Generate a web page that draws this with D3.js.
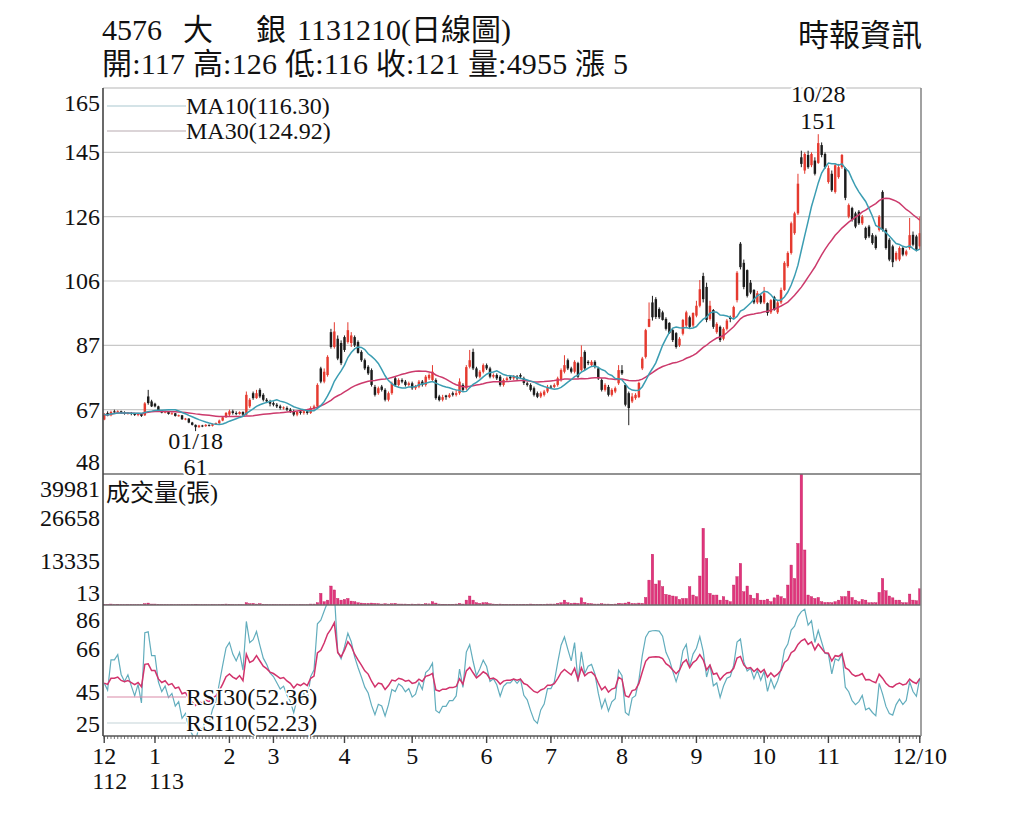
<!DOCTYPE html>
<html>
<head>
<meta charset="utf-8">
<script src="https://cdn.jsdelivr.net/npm/d3@7"></script>
<style>
  body { margin: 0; background: #fff; }
  svg { display: block; }
  text { font-family: "Liberation Serif", "Noto Sans CJK TC", serif; fill: #111; }
</style>
</head>
<body>
<script>
// ---- Data ----

// x axis: one entry per month shown, with its number of trading days
const monthLabels = ["12", "1", "2", "3", "4", "5", "6", "7", "8", "9", "10", "11", "12/10"];
const yearLabels = ["112", "113"]; // printed under the first two months
const monthDays = [15, 22, 13, 21, 20, 22, 19, 21, 22, 20, 19, 21, 7];

// daily candles, 2023/12/11 .. 2024/12/10 (one row per month)
const opens = [
  64.5,66.5,65.8,67,66.8,67,66.7,66.3,66.5,66.2,65.9,66.2,65.8,71.5,70,
  69.3,68.5,67.2,66.6,66.9,66.2,66.4,65.6,65.8,64.6,64.8,63.6,62.9,62.2,62.7,62.5,62.9,62.6,63.1,63.4,64.2,65.2,
  66,67,66.5,66.2,66.8,66,68.5,72.5,71,73.5,72,70.5,70,
  69.5,69,68.5,68,68,67.5,67,66,67,66.5,67,66.5,68,68.5,80,76,78,91,86.5,89,87.7,
  89.5,88,87.7,89.5,88,85,82.5,80.5,79.5,74.4,72.5,74.5,73.5,70.5,72.5,77,75,76.5,76,75,
  75.5,74,74.5,76,75,77,76.5,76.5,71.5,70.5,71.8,71.3,72.5,72,72.5,75,74,80.5,85,80,77.5,79,
  81,80,77.5,78,77.5,75,76.5,77.5,77,77.5,78,77,75.5,75,74,72.5,71.5,72,73,
  74.5,74.4,75,76.5,79,82.5,80,79,81.6,79.5,85,82,81,82,80,76.5,73.5,74.4,72,73,75.5,
  79.5,75,72.5,70,71,71.3,80,83.5,92.6,100,101,98,97,95,93.8,91.6,90.7,87,90.5,93,95.5,93,
  96,99,108,104.7,95,97.7,91,92.6,89,92,95.5,95.5,100.7,117.8,112,109.8,106,103.8,100,102,
  100,99.8,97,101.6,97,100,103.8,111,115,121,127,144,140,144.7,141.6,143,142.3,147.7,145,
  136.5,139,133.5,138,141,140.7,126,128.6,127,127.5,124,122.6,123,120.4,120,122,133.5,122,119,117,113,
  113,116.5,114.5,116.5,120.5,120,117
];
const highs = [
  66.5,67,67.2,67.5,67.3,67.2,67,66.8,66.8,66.5,66.5,66.4,69.8,73.5,70.5,
  69.6,68.7,67.4,67.2,67,66.7,66.5,66,65.9,65,64.9,63.8,63,62.9,62.9,63.1,63,63.3,63.6,64.5,65.5,66.8,
  67.5,67.5,67,67,67,73,71,73,73.5,74,72.5,71,70.5,
  70,69.5,69,68.5,68.5,68,67.5,67,67.5,67.5,67.5,68.5,69,75.5,80.5,80,84,92,94,90,88.5,
  90,94,91,90,88.5,85.5,83,81,80,75,74.5,75,74,73,76,77.5,77,77,76.5,76,
  76,75,76.5,76.5,78,78.5,81,77,72,72,72,72.5,73,73.5,77,75.5,81,85.6,86,80.5,79.5,81.5,
  81.5,80.5,78.5,78.5,78,77,77.5,78,78,78,78.5,77.5,76,75.5,74.5,73,73,73.5,75,
  75,75.5,77.5,80,84,83,80.5,82.5,82,87,85.5,82.5,82.5,82.5,80.5,77,75.5,75,74,74.5,81,
  81,75.5,73,72.5,72.5,76,83.5,92,100,102,101.6,98.5,97.5,95.5,94,92,91,89.5,95,97.5,96,97,
  100.5,106.8,109,106,100.5,98,94,93,92.5,95,96,99,109.5,118.3,113,110,106.8,104,103.5,102.5,
  104.7,100,101,102,100.5,104.5,112.5,115.5,124.5,127.5,139,146,145.5,146,145.5,144,151,148.5,145.5,
  141.5,140,142,142,145,141,130,129,127.5,128,126.5,123,123.5,121,120.5,126.5,134,122.5,119.5,117.5,115.5,
  117,117,116,125.6,121.5,120.5,126
];
const lows = [
  64.3,65.5,65.5,66.3,66.5,66.2,66,66,65.8,65.6,65.5,65.3,65.6,69,68.3,
  68.2,67,66.4,66.4,66,66,65.4,65.4,64.4,64.3,63.4,62.7,61,62,62.2,62.3,62.4,62.4,62.9,63.2,64,65,
  65.5,66,65.8,66,65.5,65.8,68,70.5,70.8,71,70,69.5,68.5,
  68.5,68,67.5,67.5,67,66.5,65.5,65.5,66,66,66,66.2,67.5,68,75.5,75.5,77.5,86,86,82.5,81,
  85,87.5,86.5,86.5,84.5,82,79.5,78,74.5,71.5,72,73,70,70,72,74.5,74.5,75.5,74.5,74.5,
  73.5,73.5,74,74.5,74.5,76.5,76,70.5,70,70,70.5,71,71.5,71.5,72,73,73.5,80,79.5,77,77,78.5,
  79.5,77,77,76.5,74.5,74.5,76,76.5,76.5,76.5,77,75,74.5,73,71.5,71,71,71.5,72.5,
  74,74,74.5,76,78.5,79.5,78.5,78.5,77,79,79.5,81,80.5,80,76.5,73,73,71.5,71.5,72.5,75,
  78,68.5,62.8,69.5,70.5,71,79.5,83,92.5,94.5,95,95,94.5,91.5,90.5,88,86,86.5,90,92.5,92,92.5,
  95.5,98.5,100,94,94.5,92,90.5,88,88.5,91.5,94,95,100,110,104,101.5,102.5,99.5,99.5,99.5,
  99.5,96,96.5,97.5,96.5,99.5,103.5,110.5,114.5,120.5,126.5,141,139,140.5,141,138.5,142,144,140.5,
  136,133.5,133,137.5,140.5,131,125.5,124.5,122.5,123.5,123.5,119,119.5,117.5,116,121.5,121.5,116,112.5,110.7,112.5,
  112.5,114,114,116,117,115.5,116
];
const closes = [
  66,65.8,66.8,66.8,67,66.5,66.3,66.5,66.2,65.9,66.2,65.6,69.4,69.5,68.5,
  68.5,67.2,66.6,66.9,66.2,66.4,65.6,65.8,64.6,64.8,63.6,62.9,62.2,62.7,62.5,62.9,62.6,63.1,63.4,64.2,65.2,66.5,
  67,66.5,66.2,66.8,66,72,70.5,71,72.5,71.5,70.5,70,69.3,
  69,68.5,68,68.2,67.5,67,66,66.8,66.5,67,66.5,68,68.5,75,76,79,83.5,86.5,91.2,83,81.6,
  85.6,91.6,90,87,84.7,82.5,80,78.5,75,72,74,73.5,70.5,72.5,75.5,75,76.5,76,75,75.5,
  74,74.4,76,75,77.5,78,79,71,70.4,71.3,71.3,72,72,72.5,76,73.5,80.4,82.5,80,77.5,79,81,
  80,77.5,78,77,75,76.5,77,77,77.5,77,77.5,75.6,75,73.5,72,71.4,72.5,73,74.4,
  74.4,75,77,79.5,81,80,79,82,77.5,83.5,80,81.6,82,80.5,77,73.5,75,72,73.5,74,79.5,
  78.5,69,68,71.5,72,75.6,83,91.6,95,95.5,95.6,95.5,94.7,92,90.7,88.6,86.5,89,94.7,97,92.6,96.8,
  99,104,101,94.7,99,92.6,93.5,88.6,92,94.5,95,98.6,109,110.7,104.7,102,103,100,102.8,100,
  102.8,96.8,100.7,97.7,100,103.8,112,115,124,127,136,142,145,141,145,139,148.3,144.7,141,
  140.7,134,141.6,141,144.7,131.7,129.5,125,123,124,126,119.5,120,118,116.5,126,122,116.5,113,112.2,115,
  116.5,114.5,115.5,120.4,117.5,116,121
];
const volumes = [
  200,150,300,150,200,150,100,150,150,100,150,100,400,600,300,
  300,200,150,150,100,150,100,100,150,100,100,150,200,150,100,100,100,150,100,150,200,300,
  250,150,100,150,100,700,400,500,300,400,200,150,150,
  150,100,150,100,100,150,100,100,150,100,100,300,300,700,3560,1000,1500,5800,4600,2000,1500,
  1700,2000,1200,1000,700,600,500,500,600,500,400,300,400,300,400,500,300,300,300,250,
  300,250,300,250,400,350,1000,600,300,250,200,250,200,300,500,300,1500,2750,1500,700,500,700,
  700,400,300,250,300,250,200,200,250,200,200,250,200,300,250,200,250,200,300,
  300,300,500,700,1500,700,500,600,500,2200,800,500,400,300,300,400,300,300,250,300,500,
  400,600,900,500,400,600,500,2300,7600,15500,6400,7400,5600,3250,3050,2750,2550,1700,2000,2000,5600,3050,
  2550,8850,23400,14200,3550,3050,3050,1500,2550,1500,1000,6100,8650,12700,4050,5800,3050,2000,3550,1500,
  1500,1800,1000,2200,3050,2550,2000,6100,12200,8100,18800,39981,16800,3050,2550,2000,2300,1000,800,
  800,700,1000,1500,2550,2550,4250,2300,1500,1000,1700,1500,700,700,700,3850,8100,4350,2750,2200,1500,
  1500,700,700,3350,1500,1300,4955
];

// axis ranges and tick labels as printed
const priceDomain = [48, 165];
const priceTickLabels = ["48", "67", "87", "106", "126", "145", "165"];
const volDomain = [13, 39981];
const volTickLabels = ["13", "13335", "26658", "39981"];
const rsiDomain = [25.3, 86.5];
const rsiTickLabels = ["25", "45", "66", "86"];

// header and legend texts
const titleParts = ["4576", "大", "銀", "1131210(日線圖)"];
const quoteLine = "開:117 高:126 低:116 收:121 量:4955 漲 5";
const sourceText = "時報資訊";
const maLegend = ["MA10(116.30)", "MA30(124.92)"];
const rsiLegend = ["RSI30(52.36)", "RSI10(52.23)"];
const volLegend = "成交量(張)";
const highNote = { index: 211, label: "10/28", value: "151" };
const lowNote = { index: 27, label: "01/18", value: "61" };

// ---- Layout ----
const width = 1024, height = 819;
const left = 103, right = 921;
const priceTop = 88, priceBottom = 474, volBottom = 605, rsiBottom = 736;

const upColor = "#e53a2f";
const downColor = "#1c1c1c";
const ma10Color = "#3b9db2";
const ma30Color = "#cc3a6c";
const volColor = "#e0357c";
const rsi10Color = "#62adbd";
const rsi30Color = "#d2336c";

const N = closes.length;

// indicators
function movingAverage(values, n) {
  return values.map((_, i) => d3.mean(values.slice(Math.max(0, i - n + 1), i + 1)));
}
// Wilder RSI; the smoothing state starts neutral (equal average gain and loss)
function rsi(values, n) {
  const changes = d3.range(1, values.length).map((i) => values[i] - values[i - 1]);
  const seed = d3.mean(changes.slice(0, n), Math.abs) / 2;
  let g = seed, l = seed;
  const out = [50];
  changes.forEach((d) => {
    g = (g * (n - 1) + Math.max(d, 0)) / n;
    l = (l * (n - 1) + Math.max(-d, 0)) / n;
    out.push(g + l === 0 ? 50 : (100 * g) / (g + l));
  });
  return out;
}
const ma10 = movingAverage(closes, 10);
const ma30 = movingAverage(closes, 30);
const rsi10 = rsi(closes, 10);
const rsi30 = rsi(closes, 30);

// scales
const x = d3.scaleBand().domain(d3.range(N)).range([left, right]).paddingInner(0.28);
const cx = (i) => x(i) + x.bandwidth() / 2;
const yPrice = d3.scaleLinear().domain(priceDomain).range([priceBottom, priceTop]);
const yVol = d3.scaleLinear().domain(volDomain).range([volBottom, priceBottom]);
const yRsi = d3.scaleLinear().domain(rsiDomain).range([rsiBottom, volBottom]);

function evenTicks(domain, n) {
  return d3.range(n).map((k) => domain[0] + (k * (domain[1] - domain[0])) / (n - 1));
}

const svg = d3
  .select("body")
  .append("svg")
  .attr("width", width)
  .attr("height", height)
  .attr("viewBox", [0, 0, width, height]);

// clip paths per panel
const defs = svg.append("defs");
[["clipPrice", priceTop, priceBottom], ["clipVol", priceBottom, volBottom], ["clipRsi", volBottom, rsiBottom]]
  .forEach(([id, t, b]) => {
    defs.append("clipPath").attr("id", id)
      .append("rect").attr("x", left).attr("y", t).attr("width", right - left).attr("height", b - t);
  });

// ---- Header ----
const titleX = [102, 183, 256, 297];
svg.append("g")
  .selectAll("text")
  .data(titleParts)
  .join("text")
  .attr("x", (d, i) => titleX[i])
  .attr("y", 40)
  .attr("font-size", 30)
  .text((d) => d);

svg.append("text")
  .attr("x", 102)
  .attr("y", 74)
  .attr("font-size", 30)
  .attr("textLength", 526)
  .attr("lengthAdjust", "spacing")
  .text(quoteLine);

svg.append("text")
  .attr("x", 798)
  .attr("y", 46)
  .attr("font-size", 31)
  .text(sourceText);

// ---- Price panel gridlines ----
const priceTicks = evenTicks(priceDomain, priceTickLabels.length);
svg.append("g")
  .selectAll("line")
  .data(priceTicks.slice(1, -1))
  .join("line")
  .attr("x1", left)
  .attr("x2", right)
  .attr("y1", (d) => yPrice(d))
  .attr("y2", (d) => yPrice(d))
  .attr("stroke", "#c8c8c8")
  .attr("stroke-width", 1.2);

// ---- Candles ----
const candles = svg.append("g").attr("clip-path", "url(#clipPrice)");
const idx = d3.range(N);
const isUp = (i) => closes[i] >= opens[i];

candles.selectAll("line")
  .data(idx)
  .join("line")
  .attr("x1", cx)
  .attr("x2", cx)
  .attr("y1", (i) => yPrice(highs[i]))
  .attr("y2", (i) => yPrice(lows[i]))
  .attr("stroke", (i) => (isUp(i) ? upColor : downColor))
  .attr("stroke-width", 1);

candles.selectAll("rect")
  .data(idx)
  .join("rect")
  .attr("x", (i) => x(i))
  .attr("width", x.bandwidth())
  .attr("y", (i) => yPrice(Math.max(opens[i], closes[i])))
  .attr("height", (i) => Math.max(1, Math.abs(yPrice(opens[i]) - yPrice(closes[i]))))
  .attr("fill", (i) => (isUp(i) ? upColor : downColor));

// moving averages
const priceLine = (values) =>
  d3.line().x((d, i) => cx(i)).y((d) => yPrice(d))(values);

candles.append("path")
  .attr("d", priceLine(ma30))
  .attr("fill", "none")
  .attr("stroke", ma30Color)
  .attr("stroke-width", 1.5);

candles.append("path")
  .attr("d", priceLine(ma10))
  .attr("fill", "none")
  .attr("stroke", ma10Color)
  .attr("stroke-width", 1.5);

// ---- Volume bars ----
svg.append("g")
  .attr("clip-path", "url(#clipVol)")
  .selectAll("rect")
  .data(idx)
  .join("rect")
  .attr("x", (i) => x(i))
  .attr("width", x.bandwidth())
  .attr("y", (i) => yVol(volumes[i]))
  .attr("height", (i) => Math.max(0.6, yVol(volDomain[0]) - yVol(volumes[i])))
  .attr("fill", volColor)
  .attr("stroke", "#c2185b")
  .attr("stroke-width", 0.4);

// ---- RSI lines ----
const rsiLine = d3.line()
  .x((d, i) => cx(i))
  .y((d) => yRsi(d));

const rsiGroup = svg.append("g").attr("clip-path", "url(#clipRsi)");
rsiGroup.append("path")
  .attr("d", rsiLine(rsi10))
  .attr("fill", "none")
  .attr("stroke", rsi10Color)
  .attr("stroke-width", 1.2);
rsiGroup.append("path")
  .attr("d", rsiLine(rsi30))
  .attr("fill", "none")
  .attr("stroke", rsi30Color)
  .attr("stroke-width", 1.5);

// ---- Frames ----
const frame = svg.append("g");
frame.append("line").attr("x1", left).attr("x2", right).attr("y1", priceTop).attr("y2", priceTop)
  .attr("stroke", "#b5b5b5").attr("stroke-width", 1.2);
[priceBottom, volBottom].forEach((y) => {
  frame.append("line").attr("x1", left).attr("x2", right).attr("y1", y).attr("y2", y)
    .attr("stroke", "#6e6e6e").attr("stroke-width", 1.6);
});
frame.append("line").attr("x1", left).attr("x2", right).attr("y1", rsiBottom).attr("y2", rsiBottom)
  .attr("stroke", "#555").attr("stroke-width", 1.6);
frame.append("line").attr("x1", right).attr("x2", right).attr("y1", priceTop).attr("y2", rsiBottom)
  .attr("stroke", "#8a8a8a").attr("stroke-width", 1.6);
frame.append("line").attr("x1", left).attr("x2", left).attr("y1", priceTop).attr("y2", rsiBottom)
  .attr("stroke", "#444").attr("stroke-width", 1.6);

// ---- Y labels (edge labels pushed inside the panel) ----
function yLabels(ticks, labels, scale, top, bottom) {
  svg.append("g")
    .selectAll("text")
    .data(ticks)
    .join("text")
    .attr("x", 100)
    .attr("y", (d) => Math.min(Math.max(scale(d), top + 15), bottom - 12) + 8)
    .attr("text-anchor", "end")
    .attr("font-size", 24)
    .text((d, i) => labels[i]);
}
yLabels(priceTicks, priceTickLabels, yPrice, priceTop, priceBottom);
yLabels(evenTicks(volDomain, volTickLabels.length), volTickLabels, yVol, priceBottom, volBottom);
yLabels(evenTicks(rsiDomain, rsiTickLabels.length), rsiTickLabels, yRsi, volBottom, rsiBottom);

// ---- Legends ----
function legend(items, colors, lineColors, ys) {
  items.forEach((label, i) => {
    svg.append("line")
      .attr("x1", 107).attr("x2", 186)
      .attr("y1", ys[i]).attr("y2", ys[i])
      .attr("stroke", lineColors[i]).attr("stroke-width", 1.2);
    svg.append("text")
      .attr("x", 186)
      .attr("y", ys[i] + 8)
      .attr("font-size", 24)
      .attr("fill", colors[i])
      .attr("stroke", "#fff").attr("stroke-width", 3).attr("paint-order", "stroke")
      .text(label);
  });
}
legend(maLegend, [ma10Color, ma30Color], ["#a9c8d0", "#b8a9b0"], [106, 131]);
legend(rsiLegend, [rsi30Color, rsi10Color], ["#d98aa8", "#c4d3d8"], [697, 723]);

svg.append("text")
  .attr("x", 106)
  .attr("y", 501)
  .attr("font-size", 24)
  .attr("fill", ma30Color)
  .text(volLegend);

// ---- Annotations for high and low ----
function note(n, y1, y2) {
  [[n.label, y1], [n.value, y2]].forEach(([t, y]) => {
    svg.append("text")
      .attr("x", cx(n.index))
      .attr("y", y)
      .attr("text-anchor", "middle")
      .attr("font-size", 24)
      .attr("stroke", "#fff").attr("stroke-width", 5).attr("paint-order", "stroke")
      .text(t);
  });
}
note(highNote, 102, 129);
note(lowNote, 449, 475);

// ---- X axis ----
const monthStarts = d3.cumsum([0, ...monthDays.slice(0, -1)]);
const labelIndex = monthStarts.map((s, i) => (i === monthLabels.length - 1 ? N - 1 : s));

const xAxis = svg.append("g");
xAxis.selectAll("line.minor")
  .data(idx)
  .join("line")
  .attr("class", "minor")
  .attr("x1", cx).attr("x2", cx)
  .attr("y1", rsiBottom).attr("y2", rsiBottom + 3)
  .attr("stroke", "#555").attr("stroke-width", 0.8);

xAxis.selectAll("line.major")
  .data([...monthStarts, N - 1])
  .join("line")
  .attr("class", "major")
  .attr("x1", cx).attr("x2", cx)
  .attr("y1", rsiBottom).attr("y2", rsiBottom + 7)
  .attr("stroke", "#444").attr("stroke-width", 1.4);

const monthText = xAxis.selectAll("text.month")
  .data(monthLabels)
  .join("text")
  .attr("class", "month")
  .attr("x", (d, i) => cx(labelIndex[i]))
  .attr("y", 764)
  .attr("text-anchor", "middle")
  .attr("font-size", 24)
  .text((d) => d);

yearLabels.forEach((t, i) => {
  const node = monthText.nodes()[i];
  const w = node.getComputedTextLength();
  xAxis.append("text")
    .attr("x", cx(labelIndex[i]) - w / 2)
    .attr("y", 789)
    .attr("font-size", 24)
    .text(t);
});
</script>
</body>
</html>
